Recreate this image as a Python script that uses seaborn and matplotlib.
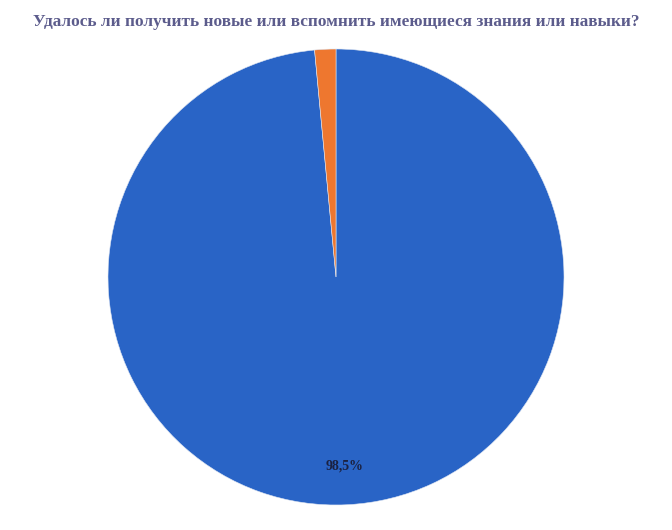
import numpy as np
import matplotlib
matplotlib.use("Agg")
import matplotlib.pyplot as plt
import seaborn as sns

# answers to the survey question
categories = ["Да", "Нет"]
shares = [98.5, 1.5]
labels_shown = ["98,5%", ""]

TITLE = "Удалось ли получить новые или вспомнить имеющиеся знания или навыки?"

sns.set_theme(style="white")
plt.rcParams["font.family"] = ["Liberation Serif", "DejaVu Serif"]

colors = ["#2964c6", "#ee772f"]

fig = plt.figure(figsize=(6.72, 5.30), dpi=100)
ax = fig.add_axes([(336 - 228) / 672, (530 - 505) / 530, 456 / 672, 456 / 530])

wedges, texts = ax.pie(
    shares,
    colors=colors,
    startangle=90,
    counterclock=False,
    radius=1.0,
    wedgeprops={"linewidth": 0.4, "edgecolor": "#dfe6f2"},
)

for w, lab in zip(wedges, labels_shown):
    if not lab:
        continue
    ang = np.deg2rad((w.theta1 + w.theta2) / 2)
    ax.text(0.83 * np.cos(ang), 0.83 * np.sin(ang), lab,
            ha="center", va="center", fontsize=10, fontweight="bold",
            color="#1b2140")

ax.set_xlim(-1, 1)
ax.set_ylim(-1, 1)
ax.set_aspect("equal")
ax.axis("off")

fig.text(336 / 672, 1 - 22 / 530, TITLE, ha="center", va="center",
         fontsize=12.4, fontweight="bold", color="#5c5c8c")

fig.savefig("out.png", dpi=100, facecolor="white")
